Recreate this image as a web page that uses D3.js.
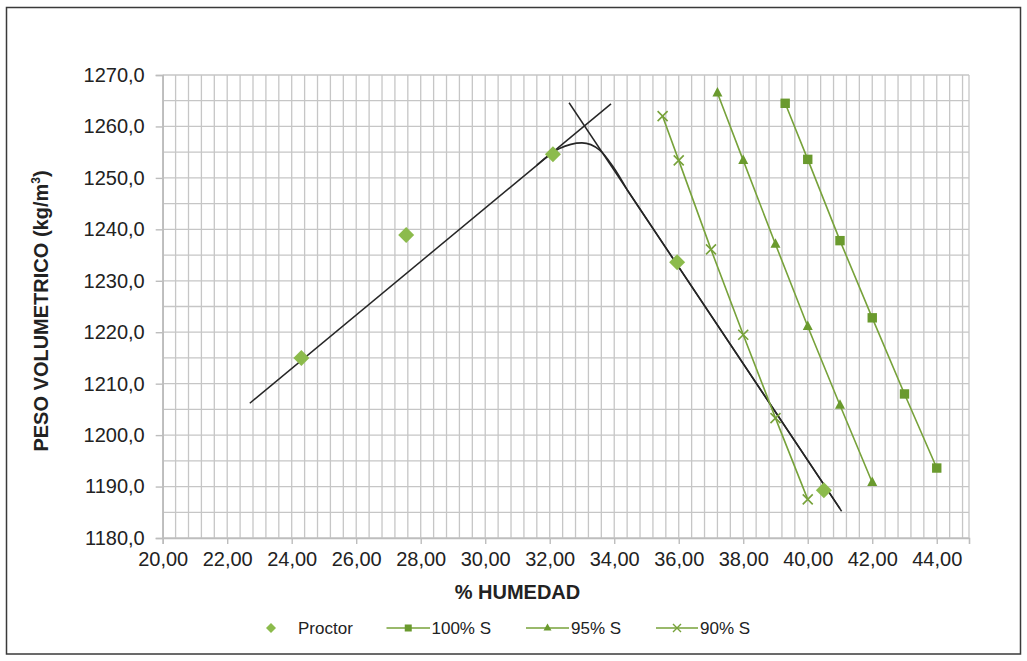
<!DOCTYPE html>
<html>
<head>
<meta charset="utf-8">
<script src="https://cdn.jsdelivr.net/npm/d3@7"></script>
<style>
  html, body { margin: 0; padding: 0; background: #fff; }
  svg { display: block; font-family: "Liberation Sans", Arial, sans-serif; }
</style>
</head>
<body>
<svg id="chart" width="1027" height="661"></svg>
<script>
// Compaction test: moisture (%) vs. dry unit weight (kg/m3)
const proctor = [
  [24.3, 1215.0], [27.55, 1238.9], [32.1, 1254.6], [35.95, 1233.6], [40.5, 1189.3]
];
const sat100 = [
  [39.3, 1264.5], [40.0, 1253.6], [41.0, 1237.8], [42.0, 1222.8], [43.0, 1208.0], [44.0, 1193.6]
];
const sat95 = [
  [37.2, 1266.5], [38.0, 1253.4], [39.0, 1237.1], [40.0, 1221.1], [41.0, 1205.8], [42.0, 1190.8]
];
const sat90 = [
  [35.5, 1262.0], [36.0, 1253.4], [37.0, 1236.1], [38.0, 1219.5], [39.0, 1203.3], [40.0, 1187.5]
];
// Tangent lines through the dry and wet branches
const dryLine = [[22.7, 1206.2], [33.9, 1264.4]];
const wetLine = [[32.6, 1264.6], [41.05, 1185.2]];
// Fitted compaction curve (rounded peak, then following the wet branch)
const fitPeak = [
  [31.6, 1252.5], [32.3, 1255.7], [33.0, 1256.8], [33.55, 1255.4],
  [33.95, 1252.3], [34.4, 1247.7]
];
const fitTail = [[34.4, 1247.7], [41.0, 1185.7]];
const xTicks = [20, 22, 24, 26, 28, 30, 32, 34, 36, 38, 40, 42, 44];
const yTicks = [1180, 1190, 1200, 1210, 1220, 1230, 1240, 1250, 1260, 1270];
const legendItems = ["Proctor", "100% S", "95% S", "90% S"];

const svg = d3.select("#chart");
const W = 1027, H = 661;
const plot = { left: 162.7, right: 969, top: 75, bottom: 538 };

const x = d3.scaleLinear().domain([20, 45]).range([plot.left, plot.right]);
const y = d3.scaleLinear().domain([1180, 1270]).range([plot.bottom, plot.top]);

const fmt = (d, n) => d.toFixed(n).replace(".", ",");
const greenLine = "#77a23a";
const greenMark = "#6a9a2e";
const proctorCol = "#8cbb4c";

// outer frame
svg.append("rect").attr("x", 0).attr("y", 0).attr("width", W).attr("height", H).attr("fill", "#fff");
svg.append("rect")
  .attr("x", 6.5).attr("y", 7.5).attr("width", 1014).attr("height", 646.5)
  .attr("fill", "none").attr("stroke", "#3a3a3a").attr("stroke-width", 1.5);

// grid
const grid = svg.append("g").attr("stroke", "#c6c6c6").attr("stroke-width", 1.3);
d3.range(0, 63).map(i => 20 + i * 0.4).forEach(v => {
  grid.append("line").attr("x1", x(v)).attr("x2", x(v)).attr("y1", plot.top).attr("y2", plot.bottom);
});
d3.range(0, 19).map(i => 1180 + i * 5).forEach(v => {
  grid.append("line").attr("x1", plot.left).attr("x2", plot.right).attr("y1", y(v)).attr("y2", y(v));
});
grid.append("line").attr("x1", plot.right).attr("x2", plot.right).attr("y1", plot.top).attr("y2", plot.bottom);

// axes
const xAxis = d3.axisBottom(x).tickValues(xTicks).tickFormat(d => fmt(d, 2)).tickSize(6).tickPadding(8);
const yAxis = d3.axisLeft(y).tickValues(yTicks).tickFormat(d => fmt(d, 1)).tickSize(7).tickPadding(11);

const gx = svg.append("g").attr("transform", `translate(0,${plot.bottom})`).call(xAxis);
const gy = svg.append("g").attr("transform", `translate(${plot.left},0)`).call(yAxis);
[gx, gy].forEach(g => {
  g.select(".domain").attr("stroke", "#bdbdbd").attr("stroke-width", 1.6);
  g.selectAll(".tick line").attr("stroke", "#bdbdbd").attr("stroke-width", 1.4);
  g.selectAll("text").attr("fill", "#222").attr("font-size", 20)
    .attr("font-family", "Liberation Sans, Arial, sans-serif");
});

// axis titles
svg.append("text")
  .attr("x", x(31)).attr("y", 599)
  .attr("text-anchor", "middle").attr("font-size", 20).attr("font-weight", "bold").attr("fill", "#222")
  .text("% HUMEDAD");
const yt = svg.append("text")
  .attr("transform", "translate(48,311) rotate(-90)")
  .attr("text-anchor", "middle").attr("font-size", 20).attr("font-weight", "bold").attr("fill", "#222");
yt.append("tspan").text("PESO VOLUMETRICO (kg/m");
yt.append("tspan").attr("font-size", 12).attr("dy", -8).text("3");
yt.append("tspan").attr("dy", 8).text(")");

// black lines
const line = d3.line().x(d => x(d[0])).y(d => y(d[1]));
const smooth = d3.line().x(d => x(d[0])).y(d => y(d[1])).curve(d3.curveMonotoneX);
const blk = svg.append("g").attr("fill", "none").attr("stroke", "#262626").attr("stroke-width", 1.5);
blk.append("path").attr("d", line(dryLine));
blk.append("path").attr("d", line(wetLine));
blk.append("path").attr("d", smooth(fitPeak) + line(fitTail).replace(/^M/, "L")).attr("stroke-width", 1.6);

// marker symbols
function drawMarker(g, type, cx, cy) {
  if (type === "square") {
    g.append("rect").attr("x", cx - 4.7).attr("y", cy - 4.7).attr("width", 9.4).attr("height", 9.4)
      .attr("fill", greenMark);
  } else if (type === "triangle") {
    g.append("path").attr("d", `M${cx},${cy - 6}L${cx + 5},${cy + 3.5}L${cx - 5},${cy + 3.5}Z`)
      .attr("fill", greenMark);
  } else if (type === "cross") {
    g.append("path").attr("d", `M${cx - 5},${cy - 5}L${cx + 5},${cy + 5}M${cx - 5},${cy + 5}L${cx + 5},${cy - 5}`)
      .attr("stroke", greenLine).attr("stroke-width", 1.6).attr("fill", "none");
  } else if (type === "diamond") {
    g.append("path").attr("d", `M${cx},${cy - 8}L${cx + 8},${cy}L${cx},${cy + 8}L${cx - 8},${cy}Z`)
      .attr("fill", proctorCol);
  }
}

const seriesList = [
  { data: sat100, mark: "square" },
  { data: sat95, mark: "triangle" },
  { data: sat90, mark: "cross" }
];
seriesList.forEach(s => {
  const g = svg.append("g");
  g.append("path").attr("d", line(s.data)).attr("fill", "none")
    .attr("stroke", greenLine).attr("stroke-width", 1.6);
  s.data.forEach(d => drawMarker(g, s.mark, x(d[0]), y(d[1])));
});

const gp = svg.append("g");
proctor.forEach(d => drawMarker(gp, "diamond", x(d[0]), y(d[1])));

// legend
const lg = svg.append("g").attr("font-size", 17).attr("fill", "#222");
const ly = 628;
(function () {
  const g = lg.append("g");
  g.append("path").attr("d", `M271,${ly - 5}L276,${ly}L271,${ly + 5}L266,${ly}Z`).attr("fill", proctorCol);
  g.append("text").attr("x", 298).attr("y", ly + 6).text(legendItems[0]);
})();
const legendSpec = [
  { x0: 386.5, x1: 430, mark: "square", tx: 431.5, label: legendItems[1] },
  { x0: 526, x1: 569, mark: "triangle", tx: 571, label: legendItems[2] },
  { x0: 656, x1: 698, mark: "cross", tx: 700, label: legendItems[3] }
];
legendSpec.forEach(s => {
  const g = lg.append("g");
  g.append("line").attr("x1", s.x0).attr("x2", s.x1).attr("y1", ly).attr("y2", ly)
    .attr("stroke", greenLine).attr("stroke-width", 1.6);
  const cx = (s.x0 + s.x1) / 2;
  if (s.mark === "square") {
    g.append("rect").attr("x", cx - 3.5).attr("y", ly - 3.5).attr("width", 7).attr("height", 7).attr("fill", greenMark);
  } else if (s.mark === "triangle") {
    g.append("path").attr("d", `M${cx},${ly - 4.5}L${cx + 4},${ly + 2.5}L${cx - 4},${ly + 2.5}Z`).attr("fill", greenMark);
  } else {
    g.append("path").attr("d", `M${cx - 4},${ly - 4}L${cx + 4},${ly + 4}M${cx - 4},${ly + 4}L${cx + 4},${ly - 4}`)
      .attr("stroke", greenLine).attr("stroke-width", 1.4);
  }
  g.append("text").attr("x", s.tx).attr("y", ly + 6).text(s.label);
});
</script>
</body>
</html>
